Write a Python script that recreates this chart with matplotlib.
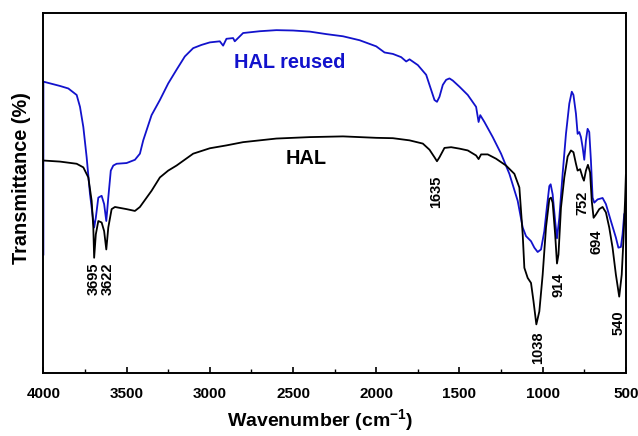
import matplotlib
matplotlib.use("Agg")
import matplotlib.pyplot as plt
from matplotlib.ticker import MultipleLocator

plt.rcParams['font.family'] = ['Liberation Sans', 'DejaVu Sans']
plt.rcParams['font.weight'] = 'bold'
plt.rcParams['mathtext.fontset'] = 'custom'
plt.rcParams['mathtext.rm'] = 'Liberation Sans:bold'
plt.rcParams['mathtext.bf'] = 'Liberation Sans:bold'

# FTIR spectrum of HAL (wavenumber in cm-1, transmittance in arbitrary units)
hal_wn = [4000, 3900, 3800, 3760, 3730, 3710, 3700, 3695, 3685, 3670, 3650, 3635, 3622,
          3610, 3590, 3570, 3500, 3450, 3420, 3350, 3300, 3250, 3200, 3100, 3000, 2900,
          2800, 2600, 2400, 2200, 2000, 1900, 1800, 1720, 1680, 1650, 1635, 1620, 1590,
          1550, 1500, 1450, 1400, 1385, 1370, 1330, 1280, 1220, 1170, 1140, 1120, 1110,
          1090, 1070, 1055, 1038, 1020, 1000, 980, 960, 950, 940, 925, 914, 905, 890,
          870, 850, 830, 815, 800, 790, 775, 760, 752, 740, 728, 715, 705, 694, 680,
          660, 640, 620, 600, 580, 560, 540, 525, 515, 505, 500]
hal_t = [59.0, 58.7, 58.1, 57.1, 54.3, 47.8, 40.4, 32.0, 38.5, 42.2, 41.8, 39.4, 34.3,
         40.4, 45.5, 46.1, 45.5, 45.0, 46.1, 50.6, 54.3, 56.2, 57.6, 60.9, 62.4, 63.2,
         64.1, 65.1, 65.5, 65.7, 65.3, 65.2, 64.6, 63.7, 62.0, 59.9, 58.8, 59.9, 62.5,
         62.7, 62.3, 61.8, 60.4, 59.4, 60.7, 60.7, 59.5, 57.6, 55.3, 51.5, 38.5, 29.2,
         26.4, 25.0, 19.9, 13.5, 17.1, 27.3, 40.4, 48.3, 48.7, 47.3, 38.5, 30.4, 32.9, 45.9,
         54.3, 60.1, 61.8, 61.3, 58.1, 56.2, 56.6, 54.3, 53.4, 56.2, 57.8, 55.7, 47.8, 43.1, 44.0,
         45.5, 46.1, 44.6, 40.4, 34.8, 27.3, 21.2, 27.3, 36.6, 47.8, 55.0]

# FTIR spectrum of reused HAL
reused_wn = [4000, 4000, 3900, 3850, 3800, 3780, 3760, 3740, 3720, 3705, 3695, 3685, 3670,
             3650, 3635, 3622, 3610, 3595, 3580, 3560, 3500, 3450, 3420, 3400, 3350, 3300,
             3250, 3200, 3150, 3100, 3050, 3000, 2940, 2920, 2900, 2860, 2850, 2800, 2700,
             2600, 2500, 2400, 2300, 2200, 2100, 2000, 1950, 1900, 1850, 1820, 1800, 1750,
             1700, 1670, 1650, 1635, 1620, 1600, 1580, 1560, 1540, 1500, 1450, 1400, 1385,
             1375, 1350, 1300, 1250, 1200, 1150, 1120, 1100, 1070, 1050, 1030, 1010, 990,
             975, 960, 952, 940, 925, 914, 900, 880, 860, 840, 825, 815, 800, 790, 780,
             770, 760, 750, 740, 730, 720, 710, 700, 690, 670, 640, 620, 590, 560, 545,
             530, 520, 510, 500]
reused_t = [32.9, 80.9, 79.7, 79.0, 77.2, 73.9, 68.3, 59.9, 49.7, 44.1, 40.4, 43.1, 48.7,
            49.2, 46.9, 42.2, 48.7, 56.2, 57.6, 58.1, 58.3, 59.2, 60.9, 64.6, 71.6, 75.8,
            80.4, 84.2, 87.9, 90.2, 91.1, 91.8, 92.1, 90.9, 92.8, 93.0, 92.1, 94.4, 94.9,
            95.2, 95.1, 94.8, 94.1, 93.5, 92.4, 90.7, 89.0, 88.6, 87.7, 86.5, 87.1, 85.5,
            82.8, 78.6, 75.8, 75.3, 76.7, 80.0, 81.4, 81.8, 81.2, 79.5, 77.2, 73.9, 69.7,
            71.6, 69.7, 65.5, 60.9, 55.3, 47.8, 40.4, 38.0, 36.6, 34.8, 33.6, 34.3, 39.4,
            45.9, 51.9, 52.4, 49.6, 42.2, 37.4, 43.1, 55.3, 66.4, 74.8, 78.1, 77.2, 72.0,
            66.4, 66.9, 65.5, 62.7, 59.2, 64.6, 67.8, 66.9, 59.0, 48.7, 47.3, 48.2, 48.6,
            46.9, 42.2, 37.6, 34.8, 35.0, 38.5, 44.1, 45.0]

# Peak annotations: text, x position, top of text
peak_labels = ["3695", "3622", "1635", "1038", "914", "752", "694", "540"]
peak_x = [3695, 3615, 1640, 1030, 907, 763, 675, 542]
peak_top = [30.6, 30.6, 54.8, 11.5, 27.8, 50.6, 39.9, 17.5]

BLUE = '#1212cc'

fig = plt.figure(figsize=(6.38, 4.36), dpi=100)
ax = fig.add_axes([0.068, 0.1445, 0.913, 0.826])

ax.plot(reused_wn, reused_t, color=BLUE, lw=1.3)
ax.plot(hal_wn, hal_t, color='black', lw=1.3)

for lab, x, y in zip(peak_labels, peak_x, peak_top):
    ax.text(x, y, lab, rotation=90, ha='center', va='top', fontsize=10.5,
            fontweight='bold', color='black')

ax.text(2523, 86.3, "HAL reused", color=BLUE, fontsize=14.3, fontweight='bold',
        ha='center', va='center')
ax.text(2421, 59.5, "HAL", color='black', fontsize=14.3, fontweight='bold',
        ha='center', va='center')

ax.set_xlim(4000, 500)
ax.set_ylim(0, 100)
ax.xaxis.set_major_locator(MultipleLocator(500))
ax.xaxis.set_minor_locator(MultipleLocator(250))
ax.tick_params(axis='x', which='major', direction='in', length=4, width=1.2,
               labelsize=11, pad=10)
ax.tick_params(axis='x', which='minor', direction='in', length=3, width=1.0)
ax.set_yticks([])
for lbl in ax.get_xticklabels():
    lbl.set_fontweight('bold')
for sp in ax.spines.values():
    sp.set_linewidth(1.4)

ax.set_xlabel("Wavenumber (cm$^{\\mathbf{-1}}$)", fontsize=14, fontweight='bold')
ax.xaxis.set_label_coords(0.476, -0.095)
ax.set_ylabel("Transmittance (%)", fontsize=14.3, fontweight='bold')
ax.yaxis.set_label_coords(-0.038, 0.54)
ax.yaxis.label.set_va('center')

fig.savefig("out.png", dpi=100)
